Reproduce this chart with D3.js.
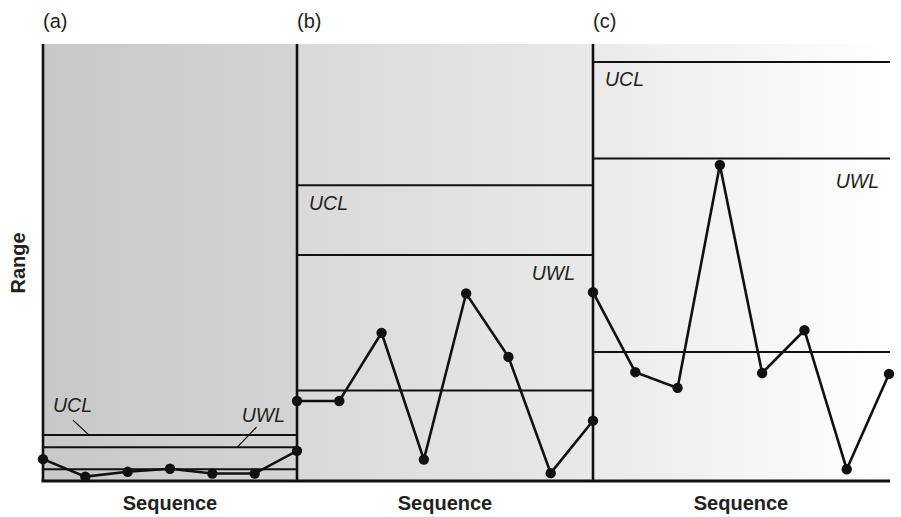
<!DOCTYPE html>
<html>
<head>
<meta charset="utf-8">
<script src="https://cdn.jsdelivr.net/npm/d3@7/dist/d3.min.js"></script>
<style>
  html, body { margin: 0; padding: 0; background: #ffffff; }
  svg { display: block; }
  text { font-family: "Liberation Sans", Arial, Helvetica, sans-serif; fill: #231f20; }
</style>
</head>
<body>
<div id="chart"></div>
<script>
// ---- data (Range values, common unit) ----
const panelNames = ["(a)", "(b)", "(c)"];
const xLabel = "Sequence";
const yLabel = "Range";
const limitLabels = ["UCL", "UWL"];

const rangeA = [5.0, 1.0, 2.1, 2.8, 1.7, 1.7, 6.9];
const rangeB = [18.3, 18.3, 33.9, 4.9, 42.9, 28.4, 1.8, 13.8];
const rangeC = [43.2, 24.9, 21.3, 72.3, 24.7, 34.5, 2.7, 24.5];

// control limits per panel: [UCL, UWL, centre]
const limitsA = [10.5, 7.7, 2.7];
const limitsB = [67.7, 51.7, 20.7];
const limitsC = [95.9, 73.8, 29.5];

// ---- layout ----
const W = 901, H = 517;
const plotTop = 44, plotBottom = 481;
const panelEdges = [43, 297, 593, 889];
const bgColors = [["#c8c8c8", "#d4d4d4"], ["#d9d9d9", "#e9e9e9"], ["#eaeaea", "#ffffff"]];
const ink = "#111111";

const svg = d3.select("#chart").append("svg").attr("width", W).attr("height", H);
const defs = svg.append("defs");

const y = d3.scaleLinear().domain([0, 100]).range([plotBottom, plotTop]);

const panels = [
  { name: panelNames[0], data: rangeA, limits: limitsA },
  { name: panelNames[1], data: rangeB, limits: limitsB },
  { name: panelNames[2], data: rangeC, limits: limitsC }
];

// backgrounds
panels.forEach((p, i) => {
  const x0 = panelEdges[i], x1 = panelEdges[i + 1];
  const g = defs.append("linearGradient").attr("id", "bg" + i)
    .attr("x1", "0%").attr("x2", "100%").attr("y1", "0%").attr("y2", "0%");
  g.append("stop").attr("offset", "0%").attr("stop-color", bgColors[i][0]);
  g.append("stop").attr("offset", "100%").attr("stop-color", bgColors[i][1]);
  svg.append("rect").attr("x", x0).attr("y", plotTop).attr("width", x1 - x0).attr("height", plotBottom - plotTop)
    .attr("fill", `url(#bg${i})`);
});

// limit lines
panels.forEach((p, i) => {
  const x0 = panelEdges[i], x1 = panelEdges[i + 1];
  svg.append("g").selectAll("line").data(p.limits).join("line")
    .attr("x1", x0).attr("x2", x1 + (i === 2 ? 1 : 0))
    .attr("y1", d => y(d)).attr("y2", d => y(d))
    .attr("stroke", ink).attr("stroke-width", 2);
});

// axes
svg.append("line").attr("x1", panelEdges[0] - 1.5).attr("x2", panelEdges[3] + 1)
  .attr("y1", plotBottom).attr("y2", plotBottom).attr("stroke", ink).attr("stroke-width", 3);
panelEdges.slice(0, 3).forEach(px => {
  svg.append("line").attr("x1", px).attr("x2", px).attr("y1", plotTop).attr("y2", plotBottom)
    .attr("stroke", ink).attr("stroke-width", 2.6);
});

// data lines and points
panels.forEach((p, i) => {
  const x = d3.scaleLinear().domain([0, p.data.length - 1]).range([panelEdges[i], panelEdges[i + 1]]);
  const line = d3.line().x((d, j) => x(j)).y(d => y(d));
  svg.append("path").datum(p.data).attr("d", line)
    .attr("fill", "none").attr("stroke", ink).attr("stroke-width", 2.6).attr("stroke-linejoin", "miter");
  svg.append("g").selectAll("circle").data(p.data).join("circle")
    .attr("cx", (d, j) => x(j)).attr("cy", d => y(d)).attr("r", 5.2).attr("fill", ink);
});

// panel letters and x labels
panels.forEach((p, i) => {
  svg.append("text").attr("x", panelEdges[i]).attr("y", 28)
    .attr("font-size", 20).text(p.name);
  svg.append("text").attr("x", (panelEdges[i] + panelEdges[i + 1]) / 2).attr("y", 510)
    .attr("text-anchor", "middle").attr("font-size", 20).attr("font-weight", "bold").text(xLabel);
});

// y label
svg.append("text").attr("transform", "translate(25,263) rotate(-90)")
  .attr("text-anchor", "middle").attr("font-size", 20).attr("font-weight", "bold").text(yLabel);

// limit labels
const lab = (x, yy, t, anchor) => svg.append("text").attr("x", x).attr("y", yy)
  .attr("font-size", 19.5).attr("font-style", "italic").attr("text-anchor", anchor || "start").text(t);

// panel (a): labels with leader lines
const ya = limitsA.map(y);
lab(53, ya[0] - 23, limitLabels[0]);
svg.append("line").attr("x1", 73).attr("y1", ya[0] - 15).attr("x2", 88).attr("y2", ya[0] - 1)
  .attr("stroke", ink).attr("stroke-width", 1.3);
lab(285, ya[0] - 13, limitLabels[1], "end");
svg.append("line").attr("x1", 256.5).attr("y1", ya[0] - 8).attr("x2", 237.5).attr("y2", ya[1] - 0.5)
  .attr("stroke", ink).attr("stroke-width", 1.3);

// panel (b)
const yb = limitsB.map(y);
lab(309, yb[0] + 25, limitLabels[0]);
lab(575, yb[1] + 25, limitLabels[1], "end");

// panel (c)
const yc = limitsC.map(y);
lab(605, yc[0] + 24, limitLabels[0]);
lab(879, yc[1] + 30, limitLabels[1], "end");
</script>
</body>
</html>
